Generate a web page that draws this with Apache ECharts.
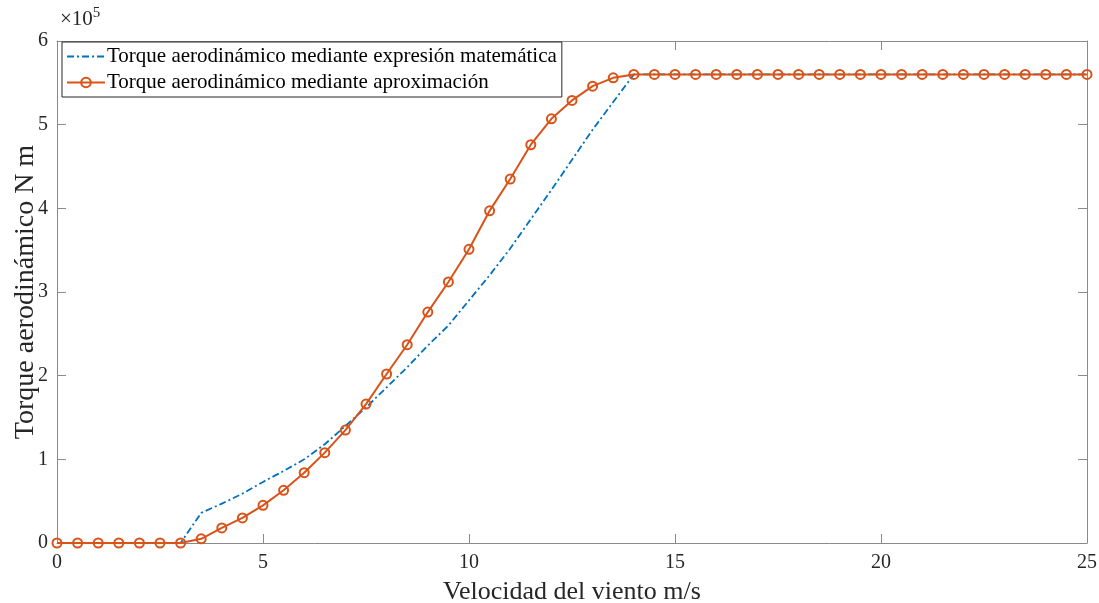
<!DOCTYPE html>
<html>
<head>
<meta charset="utf-8">
<script src="https://cdn.jsdelivr.net/npm/echarts@6/dist/echarts.min.js"></script>
<style>
  html, body { margin: 0; padding: 0; background: #fff; }
  #chart { width: 1099px; height: 603px; }
</style>
</head>
<body>
<div id="chart"></div>
<script>
// Wind speed (m/s) sampled every 0.5 m/s
const windSpeed = [];
for (let i = 0; i <= 50; i++) windSpeed.push(i * 0.5);

// Aerodynamic torque, units of 1e5 N·m
const torqueExpression = [
  0, 0, 0, 0, 0, 0, 0, 0.36, 0.47, 0.59,
  0.73, 0.86, 1.00, 1.18, 1.40, 1.62, 1.86, 2.10, 2.36, 2.60,
  2.90, 3.20, 3.52, 3.87, 4.22, 4.58, 4.94, 5.27, 5.60, 5.60,
  5.60, 5.60, 5.60, 5.60, 5.60, 5.60, 5.60, 5.60, 5.60, 5.60,
  5.60, 5.60, 5.60, 5.60, 5.60, 5.60, 5.60, 5.60, 5.60, 5.60,
  5.60
];
const torqueApprox = [
  0, 0, 0, 0, 0, 0, 0, 0.05, 0.18, 0.30,
  0.45, 0.63, 0.84, 1.08, 1.35, 1.66, 2.02, 2.37, 2.76, 3.12,
  3.51, 3.97, 4.35, 4.76, 5.07, 5.29, 5.46, 5.56, 5.60, 5.60,
  5.60, 5.60, 5.60, 5.60, 5.60, 5.60, 5.60, 5.60, 5.60, 5.60,
  5.60, 5.60, 5.60, 5.60, 5.60, 5.60, 5.60, 5.60, 5.60, 5.60,
  5.60
];

const seriesNames = [
  'Torque aerodinámico mediante expresión matemática',
  'Torque aerodinámico mediante aproximación'
];
const xTicks = { min: 0, max: 25, interval: 5 };
const yTicks = { min: 0, max: 6, interval: 1 };

const font = 'Liberation Serif, Times New Roman, serif';
const ink = '#262626';
const frame = '#8a8a8a';
const blue = '#0072BD';
const orange = '#D95319';

const chart = echarts.init(document.getElementById('chart'));

const axisCommon = {
  axisLine: { show: true, onZero: false, lineStyle: { color: frame, width: 1 } },
  axisTick: { show: true, inside: true, length: 9, lineStyle: { color: frame, width: 1 } },
  splitLine: { show: false }
};

chart.setOption({
  animation: false,
  backgroundColor: '#fff',
  textStyle: { fontFamily: font },
  grid: { left: 57, right: 12, top: 41, bottom: 60, containLabel: false, outerBoundsMode: 'none' },
  legend: {
    orient: 'vertical',
    left: 62,
    top: 42,
    padding: [4, 5, 4, 4],
    itemGap: 5,
    itemWidth: 38,
    itemHeight: 12,
    backgroundColor: '#fff',
    borderColor: ink,
    borderWidth: 1,
    borderRadius: 0,
    textStyle: { fontFamily: font, fontSize: 21, color: '#000', padding: [0, 0, 0, -3] },
    data: [
      { name: seriesNames[0], itemStyle: { opacity: 0 } },
      { name: seriesNames[1] }
    ]
  },
  xAxis: [
    Object.assign({
      type: 'value', min: xTicks.min, max: xTicks.max, interval: xTicks.interval,
      name: 'Velocidad del viento m/s', nameLocation: 'middle', nameGap: 36,
      nameTextStyle: { fontFamily: font, fontSize: 26, color: ink },
      axisLabel: { fontFamily: font, fontSize: 20, color: ink, margin: 10 }
    }, axisCommon),
    Object.assign({
      type: 'value', position: 'top', min: xTicks.min, max: xTicks.max, interval: xTicks.interval,
      axisLabel: { show: false }
    }, axisCommon)
  ],
  yAxis: [
    Object.assign({
      type: 'value', min: yTicks.min, max: yTicks.max, interval: yTicks.interval,
      name: 'Torque aerodinámico N m', nameLocation: 'middle', nameGap: 17,
      nameMoveOverlap: false,
      nameTextStyle: { fontFamily: font, fontSize: 28, color: ink },
      axisLabel: { fontFamily: font, fontSize: 20, color: ink, margin: 9 }
    }, axisCommon),
    Object.assign({
      type: 'value', position: 'right', min: yTicks.min, max: yTicks.max, interval: yTicks.interval,
      axisLabel: { show: false }
    }, axisCommon)
  ],
  graphic: [{
    type: 'text',
    left: 60,
    top: 6,
    style: {
      text: '×10{sup|5}',
      rich: { sup: { fontSize: 15, verticalAlign: 'top', padding: [0, 0, 12, 0], fontFamily: font, fill: ink } },
      fontFamily: font,
      fontSize: 21,
      fill: ink
    }
  }],
  series: [
    {
      name: seriesNames[0],
      type: 'line',
      data: windSpeed.map((v, i) => [v, torqueExpression[i]]),
      showSymbol: false,
      symbol: 'none',
      lineStyle: { color: blue, width: 1.8, type: [7, 3, 2, 3] },
      itemStyle: { color: blue },
      z: 2
    },
    {
      name: seriesNames[1],
      type: 'line',
      data: windSpeed.map((v, i) => [v, torqueApprox[i]]),
      symbol: 'circle',
      symbolSize: 9,
      showSymbol: true,
      lineStyle: { color: orange, width: 2 },
      itemStyle: { color: 'rgba(255,255,255,0)', borderColor: orange, borderWidth: 2 },
      z: 3
    }
  ]
});
</script>
</body>
</html>
